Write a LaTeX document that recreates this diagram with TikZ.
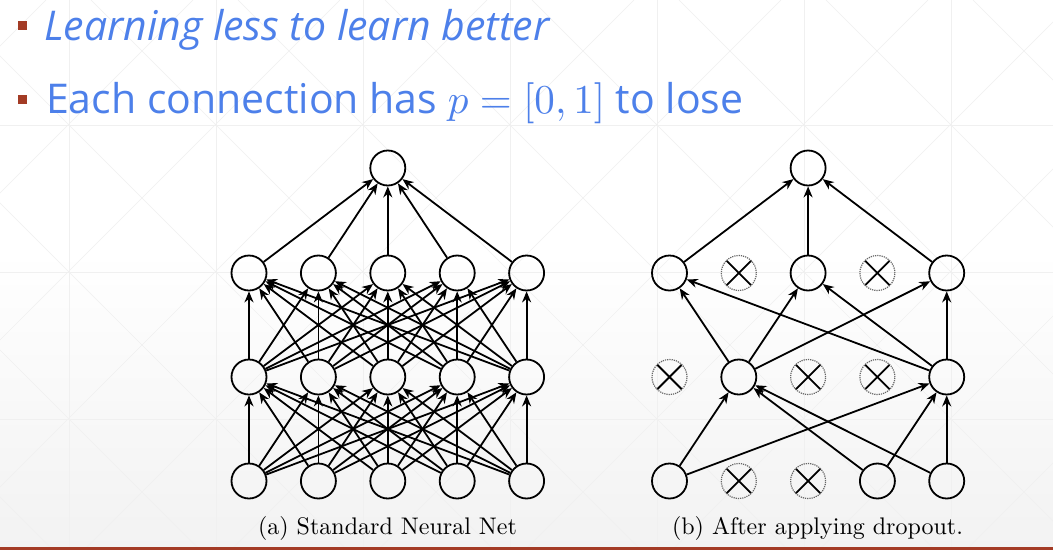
\documentclass[tikz,border=0pt]{standalone}
\usepackage{fontspec}
\newfontfamily\slidefont{Open Sans}
\usetikzlibrary{positioning,arrows.meta}
\definecolor{slideblue}{RGB}{77,128,234}
\definecolor{bulletred}{RGB}{163,59,37}
\newcommand{\bigmath}[1]{\scalebox{4.1}{\fontsize{10}{12}\selectfont$#1$}}
\tikzset{
  unit/.style={circle,draw,line width=1.8pt,minimum size=35pt,inner sep=0pt},
  dropped/.style={circle,draw=black!60,densely dotted,line width=1.2pt,minimum size=35pt,inner sep=0pt,
    path picture={\draw[solid,black,line width=1.8pt]
      (path picture bounding box.north west)--(path picture bounding box.south east)
      (path picture bounding box.north east)--(path picture bounding box.south west);}},
  conn/.style={-{Stealth[length=11pt,width=9pt]},line width=1.8pt},
  bulletbox/.style={fill=bulletred,minimum size=9pt,inner sep=0pt},
  lattice/.style={black!6,line width=0.6pt},
  caption/.style={font=\fontsize{10}{12}\selectfont,anchor=base,inner sep=0pt},
  slidetext/.style={anchor=base west,inner sep=0pt,text=slideblue,font=\slidefont\fontsize{41}{48}\selectfont}
}
\begin{document}
\begin{tikzpicture}[x=1pt,y=-1pt]
\useasboundingbox (0,0) rectangle (1053,550);
% background
\fill[white] (0,0) rectangle (1053,550);
\shade[top color=white,bottom color=black!5] (0,250) rectangle (1053,546);
\begin{scope}
\clip (0,0) rectangle (1053,546);
\foreach \k in {0,...,6} \draw[lattice] (69+147*\k,0)--++(0,550);
\foreach \k in {0,...,3} \draw[lattice] (0,-22+147*\k)--++(1053,0);
\foreach \k in {-5,...,7} \draw[lattice] (-56+147*\k,0)--++(600,600);
\foreach \k in {-1,...,9} \draw[lattice] (193+147*\k,0)--++(-600,600);
\end{scope}
\fill[bulletred] (0,546.5) rectangle (1053,550);
% bullets
\node[bulletbox] (bul1) at (22,25.5) {};
\node[bulletbox] (bul2) at (22,99.5) {};
\node[slidetext] (line1) at (44,40) {\itshape Learning less to learn better};
\node[slidetext] (line2) at (46,113) {Each connection has \bigmath{p=[0,1]} to lose};
% (a) standard net
\foreach \i/\x in {1/249,2/318.4,3/387.8,4/457.2,5/526.6}{
  \node[unit] (a1\i) at (\x,481) {};
  \node[unit] (a2\i) at (\x,377) {};
  \node[unit] (a3\i) at (\x,273) {};
}
\node[unit] (a4) at (387.8,168) {};
\foreach \i in {1,...,5}{
  \foreach \j in {1,...,5}{
    \draw[conn] (a1\i)--(a2\j);
    \draw[conn] (a2\i)--(a3\j);
  }
  \draw[conn] (a3\i)--(a4);
}
\node[caption] (capa) at (387.5,534) {\scalebox{2.4}{(a) Standard Neural Net}};
% (b) after dropout
\node[unit] (b11) at (669.5,481) {};
\node[dropped] (b12) at (738.8,481) {};
\node[dropped] (b13) at (808.1,481) {};
\node[unit] (b14) at (877.4,481) {};
\node[unit] (b15) at (946.7,481) {};
\node[dropped] (b21) at (669.5,377) {};
\node[unit] (b22) at (738.8,377) {};
\node[dropped] (b23) at (808.1,377) {};
\node[dropped] (b24) at (877.4,377) {};
\node[unit] (b25) at (946.7,377) {};
\node[unit] (b31) at (669.5,273) {};
\node[dropped] (b32) at (738.8,273) {};
\node[unit] (b33) at (808.1,273) {};
\node[dropped] (b34) at (877.4,273) {};
\node[unit] (b35) at (946.7,273) {};
\node[unit] (b4) at (808.1,168) {};
\foreach \i in {1,4,5}{
  \draw[conn] (b1\i)--(b22);
  \draw[conn] (b1\i)--(b25);
}
\foreach \i in {1,3,5}{
  \draw[conn] (b22)--(b3\i);
  \draw[conn] (b25)--(b3\i);
  \draw[conn] (b3\i)--(b4);
}
\node[caption] (capb) at (817.5,534) {\scalebox{2.4}{(b) After applying dropout.}};
\end{tikzpicture}
\end{document}
